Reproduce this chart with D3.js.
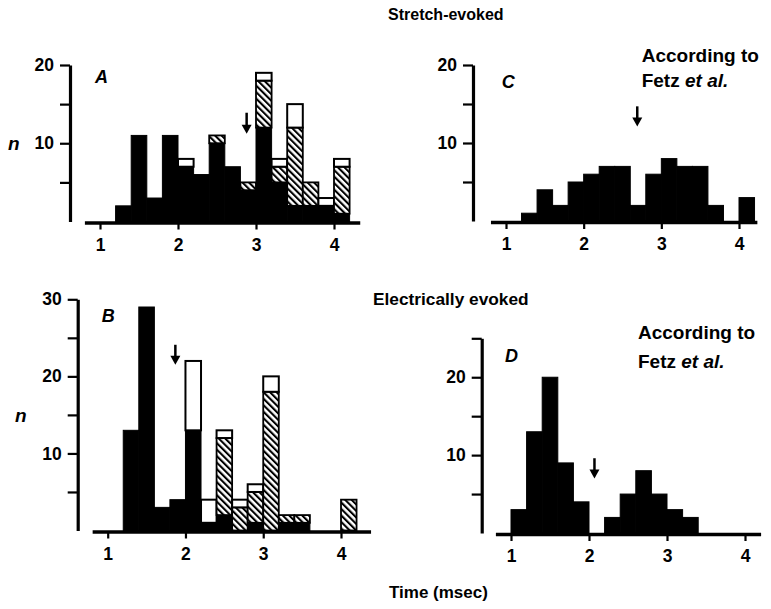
<!DOCTYPE html>
<html>
<head>
<meta charset="utf-8">
<script src="https://cdn.jsdelivr.net/npm/d3@7"></script>
<style>
  body { margin: 0; background: #fff; }
  text { font-family: "Liberation Sans", Arial, sans-serif; font-weight: bold; fill: #000; }
</style>
</head>
<body>
<svg id="fig" width="771" height="609"></svg>
<script>
// latency histograms, 0.2 msec bins (left edges)
const binLefts = [1.0, 1.2, 1.4, 1.6, 1.8, 2.0, 2.2, 2.4, 2.6, 2.8, 3.0, 3.2, 3.4, 3.6, 3.8, 4.0];
const binWidth = 0.2;

// A: stretch-evoked (black / hatched / open parts of each bar)
const stretchBlack   = [0, 2, 11, 3, 11, 7, 6, 10, 7, 4, 12, 5, 2, 2, 2, 1];
const stretchHatched = [0, 0, 0, 0, 0, 0, 0, 1, 0, 1, 6, 2, 10, 3, 0, 6];
const stretchOpen    = [0, 0, 0, 0, 0, 1, 0, 0, 0, 0, 1, 1, 3, 0, 1, 1];

// B: electrically evoked
const electricBlack   = [0, 13, 29, 3, 4, 13, 1, 2, 0, 1, 0, 1, 1, 0, 0, 0];
const electricHatched = [0, 0, 0, 0, 0, 0, 0, 10, 3, 4, 18, 1, 1, 0, 0, 4];
const electricOpen    = [0, 0, 0, 0, 0, 9, 3, 1, 1, 1, 2, 0, 0, 0, 0, 0];

// C, D: according to Fetz et al.
const fetzStretch  = [0, 1, 4, 2, 5, 6, 7, 7, 2, 6, 8, 7, 7, 2, 0, 3];
const fetzElectric = [3, 13, 20, 9, 4, 0, 2, 5, 8, 5, 3, 2, 0, 0, 0, 0];

// arrows: [time msec, tail n, tip n]
const arrowA = [2.88, 13.9, 11.2];
const arrowB = [1.87, 24.1, 21.5];
const arrowC = [2.69, 14.7, 12.1];
const arrowD = [2.07, 9.6, 7.0];

const xTicks = [1, 2, 3, 4];
const yTicks20 = [5, 10, 15, 20];
const yTicks30 = [5, 10, 15, 20, 25, 30];
const yTicks25 = [5, 10, 15, 20, 25];

const svg = d3.select("#fig");

const defs = svg.append("defs");
const hatch = defs.append("pattern")
    .attr("id", "hatch")
    .attr("patternUnits", "userSpaceOnUse")
    .attr("width", 4.6)
    .attr("height", 4.6)
    .attr("patternTransform", "rotate(-45)");
hatch.append("rect").attr("width", 4.6).attr("height", 4.6).attr("fill", "#fff");
hatch.append("rect").attr("width", 2.1).attr("height", 4.6).attr("fill", "#000");

const panels = [
    { letter: "A", black: stretchBlack, hatched: stretchHatched, open: stretchOpen, arrow: arrowA,
      yMax: 20, yTicks: yTicks20, x1: 100, x4: 334, y0: 221.5, yTop: 65, axisX: 70, xEnd: 4.33,
      letterPos: [95, 83], nPos: [8, 150], fetz: null },
    { letter: "B", black: electricBlack, hatched: electricHatched, open: electricOpen, arrow: arrowB,
      yMax: 30, yTicks: yTicks30, x1: 107.7, x4: 341, y0: 530.5, yTop: 299.3, axisX: 77.7, xEnd: 4.38,
      letterPos: [101.7, 322.3], nPos: [15, 422], fetz: null },
    { letter: "C", black: fetzStretch, hatched: null, open: null, arrow: arrowC,
      yMax: 20, yTicks: yTicks20, x1: 506, x4: 739, y0: 221, yTop: 65, axisX: 473, xEnd: 4.23,
      letterPos: [501.7, 88], nPos: null, fetz: [641.7, 61.5, 86.5] },
    { letter: "D", black: fetzElectric, hatched: null, open: null, arrow: arrowD,
      yMax: 25, yTicks: yTicks25, x1: 511, x4: 745, y0: 533, yTop: 338.3, axisX: 481.7, xEnd: 4.2,
      letterPos: [505, 361.7], nPos: null, fetz: [638, 339, 368] }
];

function styleTicks(axisG) {
    axisG.select(".domain").attr("stroke-width", 3.2);
    axisG.selectAll(".tick line").attr("stroke-width", 2.2);
    axisG.selectAll(".tick text")
        .style("font-size", "17.5px")
        .style("font-family", "'Liberation Sans', Arial, sans-serif")
        .style("font-weight", "bold");
}

panels.forEach(p => {
    const x = d3.scaleLinear().domain([1, 4]).range([p.x1, p.x4]);
    const y = d3.scaleLinear().domain([0, p.yMax]).range([p.y0, p.yTop]);
    const g = svg.append("g").attr("class", "panel-" + p.letter);

    // stacked bars
    binLefts.forEach((left, i) => {
        const b = p.black[i];
        const h = p.hatched ? p.hatched[i] : 0;
        const o = p.open ? p.open[i] : 0;
        const bx = x(left);
        const bw = x(left + binWidth) - x(left);
        if (b > 0) {
            g.append("rect")
                .attr("x", bx).attr("y", y(b))
                .attr("width", bw).attr("height", y(0) - y(b))
                .attr("fill", "#000").attr("stroke", "#000").attr("stroke-width", 1);
        }
        if (h > 0) {
            g.append("rect")
                .attr("x", bx).attr("y", y(b + h))
                .attr("width", bw).attr("height", y(b) - y(b + h))
                .attr("fill", "url(#hatch)").attr("stroke", "#000").attr("stroke-width", 1.8);
        }
        if (o > 0) {
            g.append("rect")
                .attr("x", bx).attr("y", y(b + h + o))
                .attr("width", bw).attr("height", y(b + h) - y(b + h + o))
                .attr("fill", "#fff").attr("stroke", "#000").attr("stroke-width", 2);
        }
    });

    // x axis, running a little past the first and last tick
    const xAxisScale = d3.scaleLinear()
        .domain([0.8, p.xEnd])
        .range([x(0.8), x(p.xEnd)]);
    const xAxis = g.append("g")
        .attr("transform", `translate(0,${y(0) + 1})`)
        .call(d3.axisBottom(xAxisScale).tickValues(xTicks).tickFormat(d3.format("d"))
            .tickSize(7).tickSizeOuter(0).tickPadding(9));
    styleTicks(xAxis);
    xAxis.select(".domain").attr("stroke-width", 3.5);

    // y axis
    const yAxis = g.append("g")
        .attr("transform", `translate(${p.axisX},0)`)
        .call(d3.axisLeft(y).tickValues(p.yTicks).tickSize(10).tickSizeOuter(0).tickPadding(6)
            .tickFormat(d => d % 10 === 0 ? d : ""));
    styleTicks(yAxis);

    // arrow
    const [at, tail, tip] = p.arrow;
    const ax = x(at);
    g.append("line")
        .attr("x1", ax).attr("x2", ax)
        .attr("y1", y(tail)).attr("y2", y(tip) - 8)
        .attr("stroke", "#000").attr("stroke-width", 2.5);
    g.append("path")
        .attr("d", `M${ax - 5},${y(tip) - 9}L${ax + 5},${y(tip) - 9}L${ax},${y(tip)}Z`)
        .attr("fill", "#000");

    // panel letter
    g.append("text")
        .attr("x", p.letterPos[0]).attr("y", p.letterPos[1])
        .style("font-size", "18px").style("font-style", "italic")
        .text(p.letter);

    if (p.nPos) {
        g.append("text")
            .attr("x", p.nPos[0]).attr("y", p.nPos[1])
            .style("font-size", "19px").style("font-style", "italic")
            .text("n");
    }

    if (p.fetz) {
        g.append("text")
            .attr("x", p.fetz[0]).attr("y", p.fetz[1])
            .style("font-size", "19px")
            .text("According to");
        const t = g.append("text")
            .attr("x", p.fetz[0]).attr("y", p.fetz[2])
            .style("font-size", "19px");
        t.append("tspan").text("Fetz ");
        t.append("tspan").style("font-style", "italic").text("et al.");
    }
});

svg.append("text").attr("x", 388).attr("y", 20).style("font-size", "16px").text("Stretch-evoked");
svg.append("text").attr("x", 373).attr("y", 305).style("font-size", "17.3px").text("Electrically evoked");
svg.append("text").attr("x", 389).attr("y", 598).style("font-size", "17px").text("Time (msec)");
</script>
</body>
</html>
